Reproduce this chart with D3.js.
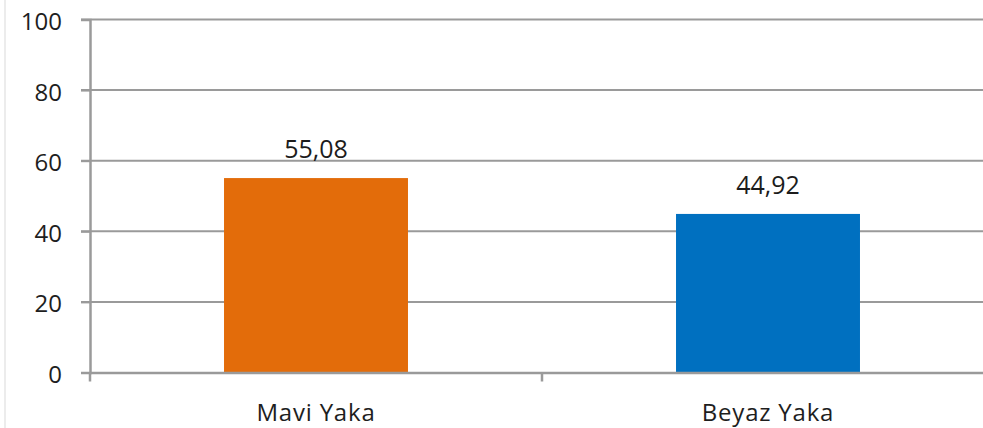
<!DOCTYPE html>
<html><head><meta charset="utf-8">
<script src="https://cdn.jsdelivr.net/npm/d3@7"></script>
<style>html,body{margin:0;padding:0;background:#fff;}svg{display:block;}</style>
</head><body>
<svg id="c" width="983" height="428"></svg>
<script>
const categories = ["Mavi Yaka", "Beyaz Yaka"];
const values = [55.08, 44.92];
const labels = ["55,08", "44,92"];
const colors = ["#E36C0A", "#0070C0"];
const yTicks = [0, 20, 40, 60, 80, 100];

(function () {
const svg = d3.select("#c");
const mLeft = 90, mRight = 994, mTop = 19.5, mBottom = 372.5;
const font = "'Open Sans', 'Noto Sans', Arial, sans-serif";

const x = d3.scaleBand().domain(categories).range([mLeft, mRight]).padding(0);
const y = d3.scaleLinear().domain([0, 100]).range([mBottom, mTop]);

// faint left border
svg.append("line").attr("x1", 5).attr("x2", 5).attr("y1", 0).attr("y2", 428)
  .attr("stroke", "#ececec").attr("stroke-width", 2);

// gridlines
svg.append("g").selectAll("line").data(yTicks.filter(d => d > 0)).join("line")
  .attr("x1", mLeft - 9).attr("x2", 983)
  .attr("y1", d => y(d)).attr("y2", d => y(d))
  .attr("stroke", "#9a9a9a").attr("stroke-width", 2);

// bars
const bw = x.bandwidth() * 0.407;
svg.append("g").selectAll("rect").data(values).join("rect")
  .attr("x", (d, i) => x(categories[i]) + x.bandwidth() / 2 - bw / 2)
  .attr("width", bw)
  .attr("y", d => y(d))
  .attr("height", d => y(0) - y(d))
  .attr("fill", (d, i) => colors[i]);

// y axis
const yAxis = svg.append("g").attr("transform", `translate(${mLeft},0)`)
  .call(d3.axisLeft(y).tickValues(yTicks).tickSize(9).tickPadding(19));
yAxis.select(".domain").attr("stroke", "#9a9a9a").attr("stroke-width", 2.5);
yAxis.selectAll(".tick line").attr("stroke", "#9a9a9a").attr("stroke-width", 2);
yAxis.selectAll("text").attr("font-family", font).attr("font-size", 24).attr("fill", "#1e1e1e")
  .attr("dy", "0.42em");

// x axis
const xAxis = svg.append("g").attr("transform", `translate(0,${mBottom})`)
  .call(d3.axisBottom(x).tickSize(0));
xAxis.select(".domain").attr("stroke", "#9a9a9a").attr("stroke-width", 2.5);
xAxis.selectAll("text").attr("font-family", font).attr("font-size", 24).attr("fill", "#1e1e1e")
  .attr("y", 48.5).attr("dy", 0).attr("letter-spacing", 0.8);
// x tick marks at band boundaries
svg.append("g").selectAll("line").data([mLeft, mLeft + x.step(), mRight]).join("line")
  .attr("x1", d => d).attr("x2", d => d)
  .attr("y1", mBottom).attr("y2", mBottom + 9)
  .attr("stroke", "#9a9a9a").attr("stroke-width", 2.5);

// data labels
svg.append("g").selectAll("text").data(values).join("text")
  .attr("x", (d, i) => x(categories[i]) + x.bandwidth() / 2)
  .attr("y", d => y(d) - 20)
  .attr("text-anchor", "middle")
  .attr("font-family", font).attr("font-size", 25).attr("fill", "#1c1c1c")
  .text((d, i) => labels[i]);
})();
</script>
</body></html>
